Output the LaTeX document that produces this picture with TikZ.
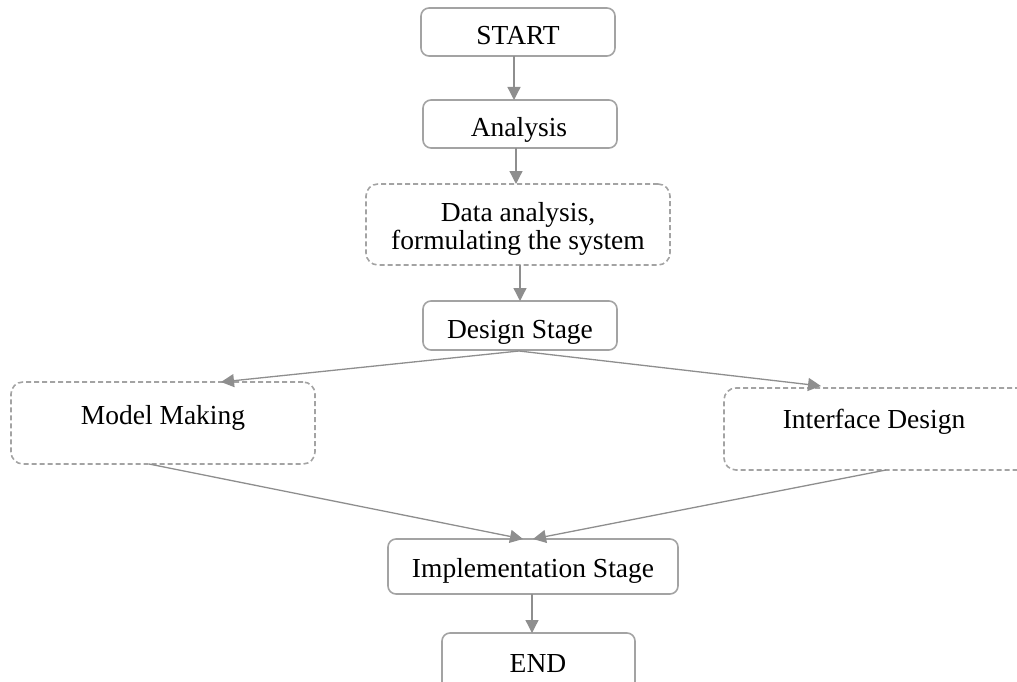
\documentclass[tikz,border=0pt]{standalone}
\usepackage{fontspec}
\setmainfont{Liberation Serif}
\usetikzlibrary{arrows.meta}
\definecolor{boxgray}{HTML}{A3A3A3}
\definecolor{arrgray}{HTML}{8E8E8E}
\tikzset{
  box/.style={draw=boxgray, line width=1.6pt, rounded corners=8pt, inner sep=0pt, outer sep=0pt},
  dbox/.style={box, rounded corners=12pt, dash pattern=on 5pt off 3pt},
  lbl/.style={anchor=base, inner sep=0pt, font=\fontsize{27.5}{28}\selectfont},
  arr/.style={draw=arrgray, line width=1.3pt, -{Triangle[length=13pt,width=13pt]}, shorten >=0pt}
}
\begin{document}
\begin{tikzpicture}[x=1pt,y=-1pt]
\useasboundingbox (0,0) rectangle (1017,682);
% boxes
\node[box, minimum width=194pt, minimum height=48pt] (start) at (518,32) {};
\node[box, minimum width=194pt, minimum height=48pt] (analysis) at (520,124) {};
\node[dbox, minimum width=304pt, minimum height=81pt] (data) at (518,224.5) {};
\node[box, minimum width=194pt, minimum height=49pt] (design) at (520,325.5) {};
\node[dbox, minimum width=304pt, minimum height=82pt] (model) at (163,423) {};
\node[dbox, minimum width=316pt, minimum height=82pt] (iface) at (882,429) {};
\node[box, minimum width=290pt, minimum height=55pt] (impl) at (533,566.5) {};
\node[box, minimum width=193pt, minimum height=67pt] (end) at (538.5,666.5) {};
% texts
\node[lbl] (tstart) at (518,45) {START};
\node[lbl] (tanalysis) at (519,136) {Analysis};
\node[lbl] (tdata1) at (518,221) {Data analysis,};
\node[lbl] (tdata2) at (518,249) {formulating the system};
\node[lbl] (tdesign) at (520,338) {Design Stage};
\node[lbl] (tmodel) at (163,424) {Model Making};
\node[lbl] (tiface) at (874,428) {Interface Design};
\node[lbl] (timpl) at (533,577) {Implementation Stage};
\node[lbl] (tend) at (538,672) {END};
% helper coordinates
\coordinate (c1) at (514,0);
\coordinate (c2) at (516,0);
\coordinate (c3) at (520,0);
\coordinate (c4) at (532,0);
\coordinate (ds) at (519,351);
\coordinate (mt) at (221,382);
\coordinate (it) at (821,386);
\coordinate (mb) at (149,464);
\coordinate (ib) at (886,470);
\coordinate (il) at (523,539);
\coordinate (ir) at (533,539);
% connectors
\draw[arr] (start.south -| c1) -- (analysis.north -| c1);
\draw[arr] (analysis.south -| c2) -- (data.north -| c2);
\draw[arr] (data.south -| c3) -- (design.north -| c3);
\draw[arr] (ds) -- (mt);
\draw[arr] (ds) -- (it);
\draw[arr] (mb) -- (il);
\draw[arr] (ib) -- (ir);
\draw[arr] (impl.south -| c4) -- (end.north -| c4);
\end{tikzpicture}
\end{document}
